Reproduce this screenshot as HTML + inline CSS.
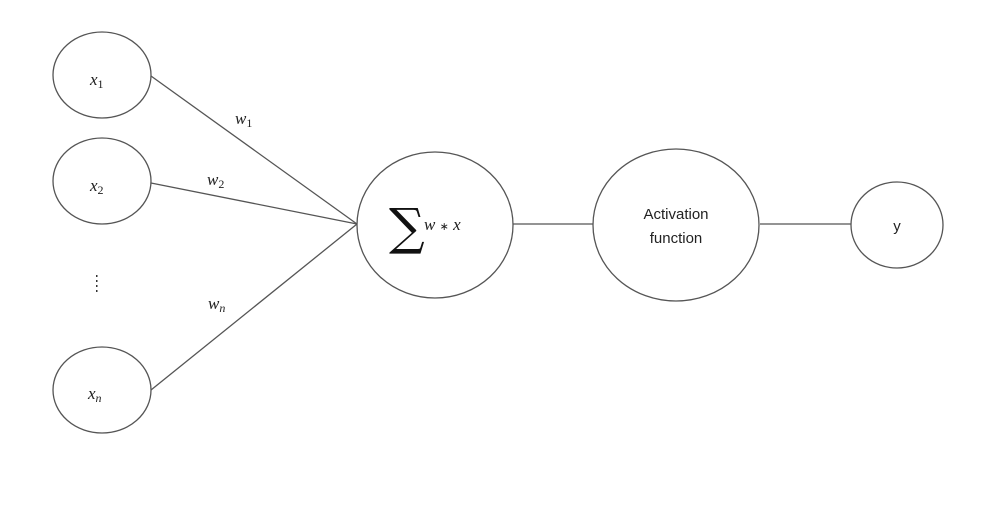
<!DOCTYPE html>
<html><head><meta charset="utf-8"><style>
html,body{margin:0;padding:0;background:#fff;}
svg{display:block;}
.m{font-family:"Liberation Serif",serif;font-style:italic;fill:#222;}
.s{font-family:"Liberation Sans",sans-serif;fill:#222;}
</style></head><body>
<svg width="995" height="507" viewBox="0 0 995 507">
<g stroke="#555" stroke-width="1.3" fill="none">
<line x1="151" y1="76" x2="357" y2="224"/>
<line x1="151" y1="183" x2="357" y2="224"/>
<line x1="151" y1="390" x2="357" y2="224"/>
<line x1="513" y1="224" x2="593" y2="224"/>
<line x1="760" y1="224" x2="851" y2="224"/>
<ellipse cx="102" cy="75" rx="49" ry="43"/>
<ellipse cx="102" cy="181" rx="49" ry="43"/>
<ellipse cx="102" cy="390" rx="49" ry="43"/>
<ellipse cx="435" cy="225" rx="78" ry="73"/>
<ellipse cx="676" cy="225" rx="83" ry="76"/>
<ellipse cx="897" cy="225" rx="46" ry="43"/>
</g>
<text class="m" x="90" y="85" font-size="17">x<tspan font-size="12" font-style="normal" dy="3">1</tspan></text>
<text class="m" x="90" y="191" font-size="17">x<tspan font-size="12" font-style="normal" dy="3">2</tspan></text>
<text class="m" x="88" y="399" font-size="17">x<tspan font-size="12" dy="3">n</tspan></text>
<text class="m" x="235" y="124" font-size="17">w<tspan font-size="12" font-style="normal" dy="3">1</tspan></text>
<text class="m" x="207" y="185" font-size="17">w<tspan font-size="12" font-style="normal" dy="3">2</tspan></text>
<text class="m" x="208" y="309" font-size="17">w<tspan font-size="12" dy="3">n</tspan></text>
<g fill="#333">
<rect x="96" y="275" width="1.5" height="2"/><rect x="96" y="280" width="1.5" height="2"/><rect x="96" y="285" width="1.5" height="2"/><rect x="96" y="290" width="1.5" height="2"/>
</g>
<text x="389" y="244" font-family="'DejaVu Serif',serif" font-size="50" fill="#111">∑</text>
<text class="m" x="424" y="230" font-size="17">w <tspan font-size="11" font-style="normal">∗</tspan> x</text>
<text class="s" x="676" y="219" font-size="15" text-anchor="middle">Activation</text>
<text class="s" x="676" y="243" font-size="15" text-anchor="middle">function</text>
<text class="s" x="897" y="231" font-size="15" text-anchor="middle">y</text>
</svg>
</body></html>
